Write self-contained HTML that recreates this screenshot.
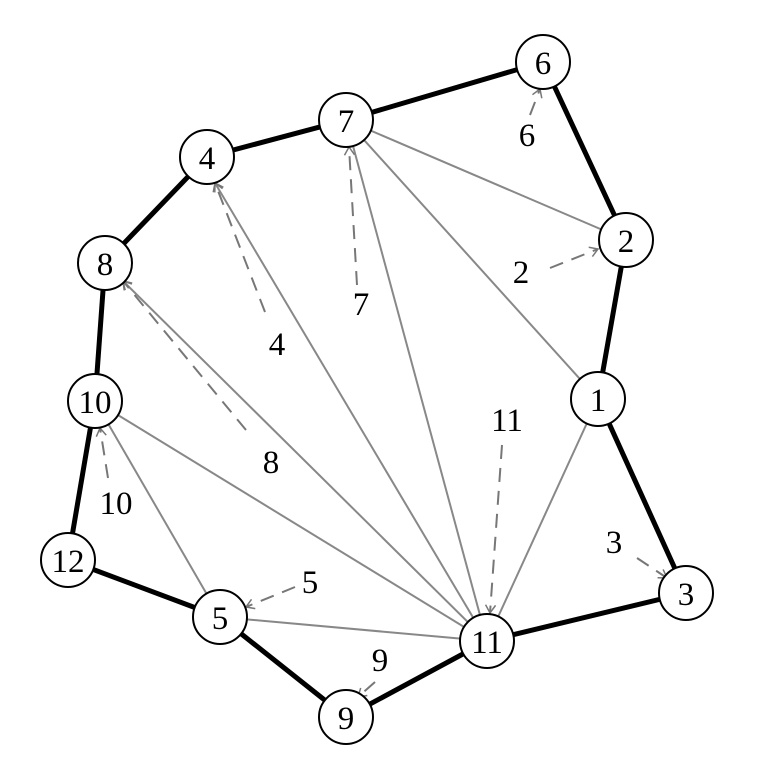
<!DOCTYPE html>
<html><head><meta charset="utf-8"><style>body{margin:0;background:#fff}</style></head><body>
<svg width="763" height="771" viewBox="0 0 763 771" xmlns="http://www.w3.org/2000/svg">
<defs>
<marker id="a" markerWidth="12" markerHeight="12" refX="10" refY="6" orient="auto" markerUnits="userSpaceOnUse">
<path d="M2,1 L10,6 L2,11" fill="none" stroke="#777" stroke-width="1.5"/></marker>
</defs>
<g stroke="#888" stroke-width="2" fill="none">
<line x1="346" y1="120" x2="626" y2="240"/>
<line x1="346" y1="120" x2="598" y2="399"/>
<line x1="346" y1="120" x2="487" y2="641"/>
<line x1="487" y1="641" x2="215" y2="183" marker-end="url(#a)"/>
<line x1="487" y1="641" x2="123" y2="281" marker-end="url(#a)"/>
<line x1="95" y1="401" x2="487" y2="641"/>
<line x1="95" y1="401" x2="220" y2="617"/>
<line x1="220" y1="617" x2="487" y2="641"/>
<line x1="598" y1="399" x2="487" y2="641"/>
</g>
<g stroke="#777" stroke-width="2" fill="none" stroke-dasharray="14,9">
<line x1="530" y1="115" x2="540" y2="89" marker-end="url(#a)"/>
<line x1="550" y1="268" x2="598" y2="249" marker-end="url(#a)"/>
<line x1="357" y1="285" x2="349" y2="147" marker-end="url(#a)"/>
<line x1="265" y1="312" x2="215" y2="183" marker-end="url(#a)"/>
<line x1="246" y1="430" x2="123" y2="281" marker-end="url(#a)"/>
<line x1="502" y1="445" x2="490" y2="613" marker-end="url(#a)"/>
<line x1="637" y1="558" x2="667" y2="578" marker-end="url(#a)"/>
<line x1="295" y1="587" x2="246" y2="607" marker-end="url(#a)"/>
<line x1="375" y1="682" x2="358" y2="697" marker-end="url(#a)"/>
<line x1="108" y1="478" x2="100" y2="428" marker-end="url(#a)"/>
</g>
<polygon points="543,62 626,240 598,399 686,593 487,641 346,717 220,617 68,560 95,401 105,263 207,157 346,120" fill="none" stroke="#000" stroke-width="5" stroke-linejoin="round"/>
<g fill="#fff" stroke="#000" stroke-width="2">
<circle cx="543" cy="62" r="27"/><circle cx="346" cy="120" r="27"/><circle cx="207" cy="157" r="27"/>
<circle cx="626" cy="240" r="27"/><circle cx="105" cy="263" r="27"/><circle cx="598" cy="399" r="27"/>
<circle cx="95" cy="401" r="27"/><circle cx="68" cy="560" r="27"/><circle cx="686" cy="593" r="27"/>
<circle cx="220" cy="617" r="27"/><circle cx="487" cy="641" r="27"/><circle cx="346" cy="717" r="27"/>
</g>
<g font-family="Liberation Serif, serif" font-size="33" text-anchor="middle" fill="#000">
<text x="543" y="74">6</text><text x="346" y="132">7</text><text x="207" y="169">4</text>
<text x="626" y="252">2</text><text x="105" y="275">8</text><text x="598" y="411">1</text>
<text x="95" y="413">10</text><text x="68" y="572">12</text><text x="686" y="605">3</text>
<text x="220" y="629">5</text><text x="487" y="653">11</text><text x="346" y="729">9</text>
<text x="527" y="146">6</text><text x="521" y="283">2</text><text x="361" y="315">7</text>
<text x="277" y="355">4</text><text x="271" y="473">8</text><text x="507" y="431">11</text>
<text x="614" y="553">3</text><text x="310" y="593">5</text><text x="380" y="671">9</text>
<text x="116" y="514">10</text>
</g>
</svg>
</body></html>
